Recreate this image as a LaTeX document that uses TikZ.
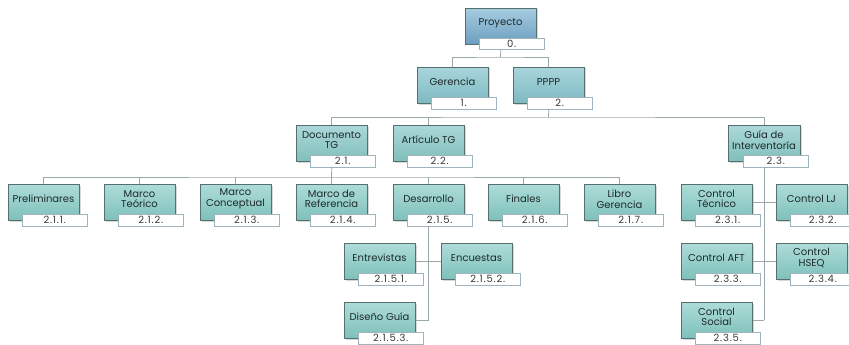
\documentclass[tikz,border=0pt]{standalone}
\usepackage{fontspec}
\setmainfont{Poppins}
\newfontfamily\lblfont[LetterSpace=8]{Poppins}
\usetikzlibrary{calc,shadows}
\definecolor{linec}{HTML}{9AA8AA}
\definecolor{boxborder}{HTML}{56706F}
\definecolor{lblborder}{HTML}{9DB4BE}
\definecolor{lbltext}{HTML}{3A3A3A}
\definecolor{boxtextc}{HTML}{1E2A2A}
\definecolor{zerotop}{HTML}{A6CCE0}
\definecolor{zerobot}{HTML}{6C9EC0}
\definecolor{onetop}{HTML}{A9D5DB}
\definecolor{onebot}{HTML}{7DB9C2}
\definecolor{twotop}{HTML}{ACD8D8}
\definecolor{twobot}{HTML}{80BFBC}
\definecolor{threetop}{HTML}{ADDCD8}
\definecolor{threebot}{HTML}{7FC0BA}
\tikzset{
 conn/.style={draw=linec, line width=0.8pt},
 wbsbox/.style={draw=boxborder, line width=0.6pt, minimum height=36pt, anchor=north west, inner sep=0pt,
   drop shadow={shadow xshift=1.2pt,shadow yshift=-1.2pt,opacity=0.3}},
 lvlzero/.style={top color=zerotop, bottom color=zerobot},
 lvlone/.style={top color=onetop, bottom color=onebot},
 lvltwo/.style={top color=twotop, bottom color=twobot},
 lvlthree/.style={top color=threetop, bottom color=threebot},
 lblbox/.style={draw=lblborder, fill=white, line width=0.5pt, minimum width=65pt, minimum height=11.5pt,
   anchor=north west, inner sep=0pt, font=\lblfont\fontsize{10}{10}\selectfont, text=lbltext},
 boxtext/.style={align=center, font=\fontsize{10}{10.5}\selectfont, text=boxtextc, inner sep=0pt},
}
% #1 name, #2 x, #3 y, #4 style, #5 width, #6 text, #7 label
\newcommand\wbsnode[7]{%
 \node[wbsbox,#4,minimum width=#5pt] (#1) at (#2,#3) {};
 \node[lblbox] (#1l) at (#2+#5-57,#3+30) {#7};
 \node[boxtext] (#1t) at (#2+#5/2,#3+15) {#6};
}
\begin{document}
\begin{tikzpicture}[x=1pt,y=-1pt]
\useasboundingbox (0,0) rectangle (849,345);
\clip (0,0) rectangle (849,345);
\fill[white] (0,0) rectangle (849,345);

\coordinate (j0) at (500.5,57);
\coordinate (j1) at (548.5,117);
\coordinate (j2) at (331.5,177);

% ---------- boxes
\wbsnode{proy}{465}{8}{lvlzero}{71}{Proyecto}{0.}
\wbsnode{ger}{417}{67}{lvlone}{71}{Gerencia}{1.}
\wbsnode{pppp}{513}{67}{lvlone}{71}{PPPP}{2.}
\wbsnode{doc}{296}{125}{lvltwo}{71}{Documento\\TG}{2.1.}
\wbsnode{art}{393}{125}{lvltwo}{71}{Artículo TG}{2.2.}
\wbsnode{guia}{728}{125}{lvltwo}{72}{Guía de\\Interventoría}{2.3.}
\wbsnode{prel}{8}{184}{lvlthree}{71}{Preliminares}{2.1.1.}
\wbsnode{teo}{104}{184}{lvlthree}{71}{Marco\\Teórico}{2.1.2.}
\wbsnode{conc}{200}{184}{lvlthree}{71}{Marco\\Conceptual}{2.1.3.}
\wbsnode{ref}{296}{184}{lvlthree}{71}{Marco de\\Referencia}{2.1.4.}
\wbsnode{des}{393}{184}{lvlthree}{71}{Desarrollo}{2.1.5.}
\wbsnode{fin}{488}{184}{lvlthree}{71}{Finales}{2.1.6.}
\wbsnode{libro}{584}{184}{lvlthree}{71}{Libro\\Gerencia}{2.1.7.}
\wbsnode{tec}{681}{184}{lvlthree}{71}{Control\\Técnico}{2.3.1.}
\wbsnode{lj}{776}{184}{lvlthree}{71}{Control LJ}{2.3.2.}
\wbsnode{entr}{344}{243}{lvlthree}{71}{Entrevistas}{2.1.5.1.}
\wbsnode{encu}{441}{243}{lvlthree}{71}{Encuestas}{2.1.5.2.}
\wbsnode{aft}{681}{243}{lvlthree}{71}{Control AFT}{2.3.3.}
\wbsnode{hseq}{776}{243}{lvlthree}{71}{Control\\HSEQ}{2.3.4.}
\wbsnode{dis}{344}{302}{lvlthree}{71}{Diseño Guía}{2.1.5.3.}
\wbsnode{soc}{681}{302}{lvlthree}{71}{Control\\Social}{2.3.5.}

% ---------- connectors
\draw[conn] (proyl.south -| proy.south) -- (j0);
\draw[conn] (ger.north) |- (j0) -| (pppp.north);
\draw[conn] (ppppl.south -| pppp.south) -- (j1);
\draw[conn] (doc.north) |- (j1) -| (guia.north);
\draw[conn] (art.north) -- (art.north |- j1);
\draw[conn] (docl.south -| doc.south) -- (j2);
\draw[conn] (prel.north) |- (j2) -| (libro.north);
\draw[conn] (teo.north) -- (teo.north |- j2);
\draw[conn] (conc.north) -- (conc.north |- j2);
\draw[conn] (ref.north) -- (ref.north |- j2);
\draw[conn] (des.north) -- (des.north |- j2);
\draw[conn] (fin.north) -- (fin.north |- j2);
% Desarrollo children
\draw[conn] (desl.south -| des.south) -- (des.south |- dis.east);
\draw[conn] (entr.east) -- (entr.east -| des.south);
\draw[conn] (encu.west) -- (encu.west -| des.south);
\draw[conn] (dis.east) -- (dis.east -| des.south);
% Guia children
\draw[conn] (guial.south -| guia.south) -- (guia.south |- soc.east);
\draw[conn] (tec.east) -- (tec.east -| guia.south);
\draw[conn] (lj.west) -- (lj.west -| guia.south);
\draw[conn] (aft.east) -- (aft.east -| guia.south);
\draw[conn] (hseq.west) -- (hseq.west -| guia.south);
\draw[conn] (soc.east) -- (soc.east -| guia.south);
\end{tikzpicture}
\end{document}
